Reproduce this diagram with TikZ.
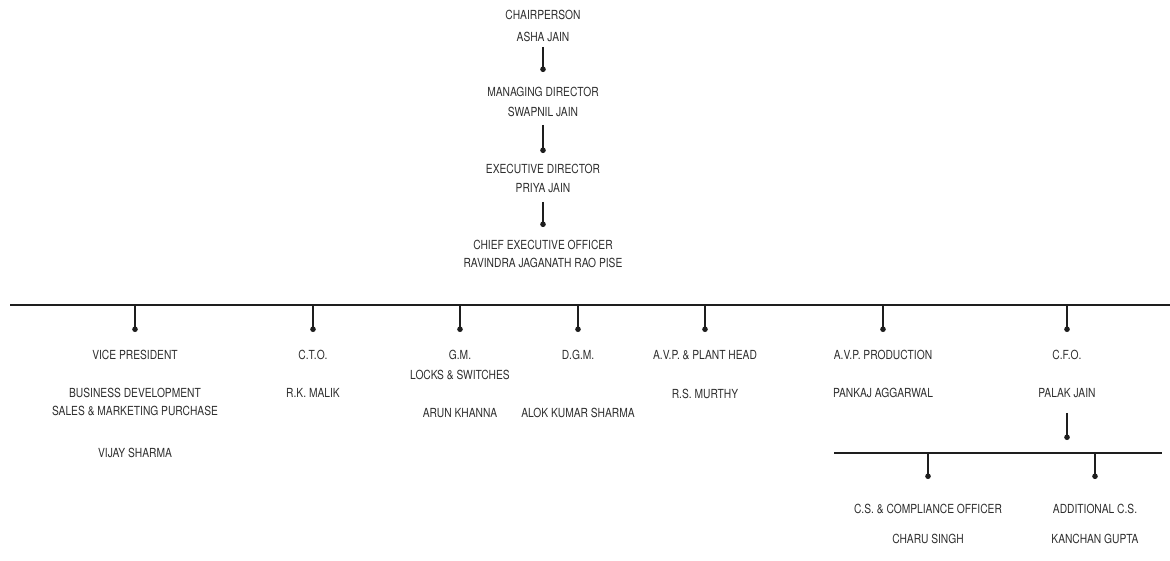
\documentclass[tikz,border=0pt]{standalone}
\usepackage{fontspec}
\setmainfont[FakeStretch=0.82]{TeX Gyre Heros}
\usetikzlibrary{arrows.meta}
\definecolor{txt}{HTML}{2E2E2E}
\definecolor{ln}{HTML}{1E1E1E}
\begin{document}
\begin{tikzpicture}[x=1pt,y=-1pt,
  lbl/.style={inner sep=0pt,align=center,text=txt,font=\fontsize{12.5}{20}\selectfont},
  conn/.style={draw=ln,line width=1.2pt,-{Circle[length=5.5pt]}},
  barline/.style={draw=ln,line width=1.4pt}]
\useasboundingbox (0,0) rectangle (1170,561);
% top chain
\node[lbl,font=\fontsize{12.5}{22}\selectfont] (chair) at (543,26) {CHAIRPERSON\\ASHA JAIN};
\node[lbl] (md) at (543,102) {MANAGING DIRECTOR\\SWAPNIL JAIN};
\node[lbl,font=\fontsize{12.5}{19}\selectfont] (ed) at (543,178.5) {EXECUTIVE DIRECTOR\\PRIYA JAIN};
\node[lbl,font=\fontsize{12.5}{18}\selectfont] (ceo) at (543,254) {CHIEF EXECUTIVE OFFICER\\RAVINDRA JAGANATH RAO PISE};
\draw[conn,shorten <=5pt,shorten >=15pt] (chair.south) -- (md.north);
\draw[conn,shorten <=8pt,shorten >=11pt] (md.south) -- (ed.north);
\draw[conn,shorten <=9pt,shorten >=13pt] (ed.south) -- (ceo.north);
% main bar
\coordinate (barL) at (10,305);
\coordinate (barR) at (1170,305);
\draw[barline] (barL) -- (barR);
% second level
\node[lbl] (vp) at (135,355) {VICE PRESIDENT};
\node[lbl,font=\fontsize{12.5}{18}\selectfont] (vpd) at (135,402) {BUSINESS DEVELOPMENT\\SALES \& MARKETING PURCHASE};
\node[lbl] (vpn) at (135,453) {VIJAY SHARMA};
\node[lbl] (cto) at (313,355) {C.T.O.};
\node[lbl] (ctn) at (313,393) {R.K. MALIK};
\node[lbl,font=\fontsize{12.5}{20}\selectfont] (gm) at (460,365) {G.M.\\LOCKS \& SWITCHES};
\node[lbl] (gmn) at (460,413) {ARUN KHANNA};
\node[lbl] (dgm) at (578,355) {D.G.M.};
\node[lbl] (dgmn) at (578,413) {ALOK KUMAR SHARMA};
\node[lbl] (avp) at (705,355) {A.V.P. \& PLANT HEAD};
\node[lbl] (avpn) at (705,394) {R.S. MURTHY};
\node[lbl] (avpp) at (883,355) {A.V.P. PRODUCTION};
\node[lbl] (avppn) at (883,393) {PANKAJ AGGARWAL};
\node[lbl] (cfo) at (1067,355) {C.F.O.};
\node[lbl] (cfon) at (1067,393) {PALAK JAIN};
\foreach \n/\x in {vp/135,cto/313,gm/460,dgm/578,avp/705,avpp/883,cfo/1067}{
  \coordinate (b\n) at (\x,305);
  \draw[conn] (b\n) -- (\x,332);
}
% CFO sub-branch
\coordinate (cfodot) at (1067,440);
\draw[conn,shorten <=15pt] (cfon.south) -- (cfodot);
\coordinate (subL) at (834,453);
\coordinate (subR) at (1162,453);
\draw[barline] (subL) -- (subR);
\node[lbl] (cs) at (928,509) {C.S. \& COMPLIANCE OFFICER};
\node[lbl] (csn) at (928,539) {CHARU SINGH};
\node[lbl] (acs) at (1095,509) {ADDITIONAL C.S.};
\node[lbl] (acsn) at (1095,539) {KANCHAN GUPTA};
\coordinate (bcs) at (928,453);
\coordinate (bacs) at (1095,453);
\draw[conn,shorten >=25pt] (bcs) -- (cs.north);
\draw[conn,shorten >=25pt] (bacs) -- (acs.north);
\end{tikzpicture}
\end{document}
